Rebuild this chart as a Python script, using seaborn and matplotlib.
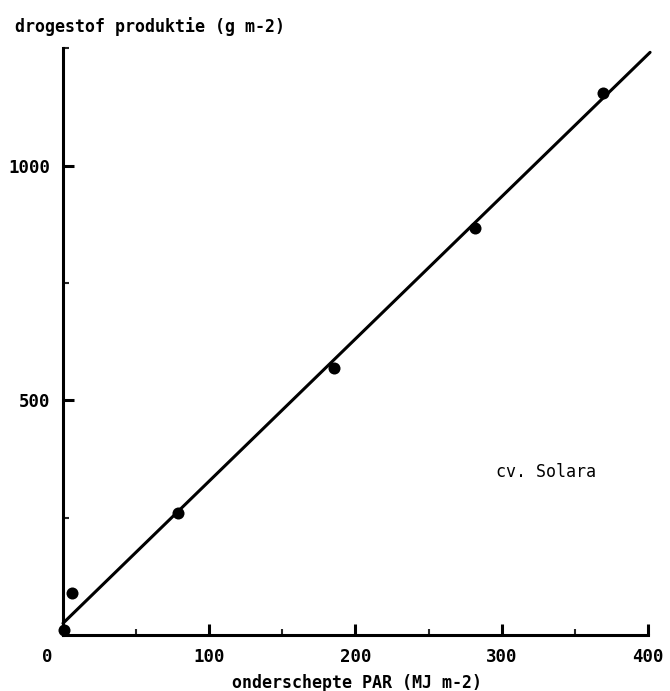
import matplotlib
matplotlib.use("Agg")
import matplotlib.pyplot as plt
import matplotlib.transforms as mtransforms
import seaborn as sns
import numpy as np
import pandas as pd
from matplotlib.ticker import MultipleLocator

# data
par = [0.5, 6, 79, 185, 282, 369]
dry_matter = [10, 89, 260, 568, 868, 1155]
fit_intercept = 25
fit_slope = 3.03
fit_x = [0, 401.5]
x_ticks = [0, 100, 200, 300, 400]
y_ticks = [500, 1000]

sns.set_style("ticks")
plt.rcParams['font.family'] = ['DejaVu Sans Mono', 'DejaVu Sans']
plt.rcParams['text.color'] = 'black'

fig = plt.figure(figsize=(6.7, 6.91), dpi=100)
ax = fig.add_axes([0.094, 0.081, 0.873, 0.849])

df = pd.DataFrame({"par": par, "dm": dry_matter})
line = pd.DataFrame({"x": fit_x, "y": [fit_intercept + fit_slope * v for v in fit_x]})

sns.lineplot(data=line, x="x", y="y", ax=ax, color="black", linewidth=2.2, clip_on=False)
sns.scatterplot(data=df, x="par", y="dm", ax=ax, color="black", s=75,
                edgecolor="black", linewidth=0, clip_on=False, zorder=5)

ax.set_xlim(0, 400)
ax.set_ylim(0, 1250)
ax.set_xticks(x_ticks)
ax.set_yticks(y_ticks)
ax.xaxis.set_minor_locator(MultipleLocator(50))
ax.yaxis.set_minor_locator(MultipleLocator(250))
ax.tick_params(axis='both', which='major', direction='in', length=8, width=2.2,
               labelsize=12.5, colors='black', labelcolor='black')
ax.tick_params(axis='both', which='minor', direction='in', length=4, width=1.5)
ax.tick_params(axis='x', which='major', pad=9)
ax.tick_params(axis='y', which='major', pad=9)
for lbl in ax.get_xticklabels() + ax.get_yticklabels():
    lbl.set_fontweight('bold')
# the "0" label sits left of the corner in the original
zero_lbl = ax.get_xticklabels()[0]
zero_lbl.set_transform(zero_lbl.get_transform() +
                       mtransforms.ScaledTranslation(-16 / 100, 0, fig.dpi_scale_trans))

sns.despine(ax=ax)
for s in ['left', 'bottom']:
    ax.spines[s].set_linewidth(2.2)
    ax.spines[s].set_color('black')

ax.set_xlabel("")
ax.set_ylabel("")
fig.text(357 / 670, 1 - 683 / 691, "onderschepte PAR (MJ m-2)", ha='center', va='center',
         fontsize=12, fontweight='bold', color='black')
fig.text(15 / 670, 1 - 27 / 691, "drogestof produktie (g m-2)", ha='left', va='center',
         fontsize=12, fontweight='bold', color='black')
ax.text(330, 347, "cv. Solara", ha='center', va='center', fontsize=12, color='black')

fig.savefig("out.png", dpi=100, facecolor='white')
